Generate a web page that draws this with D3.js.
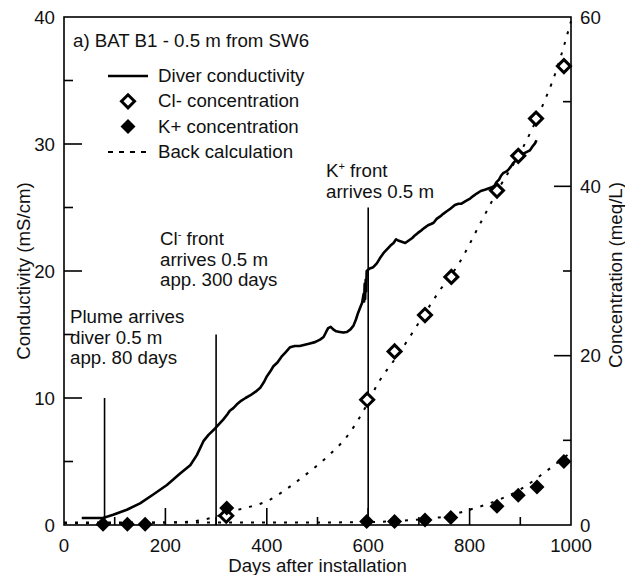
<!DOCTYPE html>
<html>
<head>
<meta charset="utf-8">
<script src="https://cdn.jsdelivr.net/npm/d3@7"></script>
<style>
  html, body { margin: 0; padding: 0; background: #fff; }
  svg text { font-family: "Liberation Sans", Arial, sans-serif; fill: #111; }
</style>
</head>
<body>
<svg id="chart" width="625" height="575"></svg>
<script>
// values
const xTicks = [0, 200, 400, 600, 800, 1000];
const xMinorTicks = [100, 300, 500, 700, 900];
const condTicks = [0, 10, 20, 30, 40];
const condMinorTicks = [5, 15, 25, 35];
const concTicks = [0, 20, 40, 60];
const concMinorTicks = [10, 30, 50];

// diver conductivity [day, mS/cm]
const diverConductivity = [
    [35, 0.55], [77, 0.55], [80, 0.6], [97, 0.8], [124, 1.2], [150, 1.7], [176, 2.4],
    [203, 3.15], [229, 4.05], [249, 4.7], [262, 5.5], [275, 6.6], [285, 7.1], [298, 7.6],
    [314, 8.3], [322, 8.7], [327, 9.0], [334, 9.2], [341, 9.5], [350, 9.8], [358, 10.0],
    [367, 10.2], [378, 10.5], [387, 10.8], [395, 11.3], [400, 11.7], [407, 12.1], [413, 12.5],
    [421, 12.8], [429, 13.25], [437, 13.6], [446, 14.0], [455, 14.1], [465, 14.1], [475, 14.2],
    [485, 14.3], [495, 14.4], [505, 14.6], [512, 14.8], [517, 15.2], [521, 15.5], [526, 15.6],
    [531, 15.4], [537, 15.25], [544, 15.2], [551, 15.15], [558, 15.2], [565, 15.4], [571, 15.7],
    [576, 16.2], [580, 16.7], [585, 17.2], [588, 17.5], [591, 18.2], [592, 17.6], [593, 19.0],
    [594, 17.8], [595, 19.3], [596, 18.4], [597, 20.0], [603, 20.2], [610, 20.3], [617, 20.6],
    [623, 21.0], [630, 21.4], [637, 21.7], [644, 22.0], [650, 22.2], [655, 22.5], [659, 22.4],
    [666, 22.3], [673, 22.2], [680, 22.4], [687, 22.6], [692, 22.8], [698, 23.0], [705, 23.2],
    [711, 23.4], [718, 23.6], [724, 23.7], [729, 23.8], [735, 24.1], [742, 24.3], [748, 24.5],
    [755, 24.7], [762, 24.9], [771, 25.2], [778, 25.3], [784, 25.3], [792, 25.5], [801, 25.7],
    [807, 25.9], [814, 26.1], [822, 26.3], [830, 26.4], [837, 26.5], [844, 26.6], [849, 26.7],
    [853, 27.0], [858, 27.2], [862, 27.5], [866, 27.7], [871, 27.8], [876, 27.95], [881, 28.2],
    [886, 28.5], [891, 28.7], [896, 29.0], [902, 29.1], [909, 29.3], [914, 29.4], [919, 29.5],
    [924, 29.8], [929, 30.05], [932, 30.3]
];

// Cl- and K+ concentration samples [day, meq/L]
const clConcentration = [
    [320, 1.1], [598, 14.8], [652, 20.5], [712, 24.8], [764, 29.3],
    [854, 39.5], [896, 43.6], [931, 48.0], [986, 54.2]
];
const kConcentration = [
    [77, 0.1], [125, 0.1], [160, 0.1], [321, 2.0], [597, 0.4], [652, 0.4],
    [712, 0.6], [763, 0.9], [854, 2.2], [896, 3.5], [933, 4.5], [986, 7.5]
];

// back calculations [day, meq/L]
const clBackCalc = [
    [0, 0.2], [100, 0.2], [200, 0.3], [250, 0.4], [280, 0.7], [300, 1.0], [330, 1.6],
    [370, 2.2], [400, 2.8], [440, 4.3], [480, 6.1], [520, 8.1], [560, 10.6], [590, 13.4],
    [620, 16.8], [660, 20.2], [700, 23.9], [740, 27.6], [780, 31.0], [820, 35.5],
    [860, 40.0], [900, 44.0], [940, 49.0], [970, 53.5], [1000, 59.5]
];
const kBackCalc = [
    [0, 0.3], [300, 0.3], [500, 0.3], [600, 0.35], [650, 0.45], [700, 0.65], [750, 1.0],
    [800, 1.8], [850, 2.8], [900, 4.2], [950, 6.3], [1000, 8.6]
];

// front annotations: day of the vertical line, top of line (mS/cm), text lines
const fronts = [
    { day: 80, top: 10, lines: ['Plume arrives', 'diver 0.5 m', 'app. 80 days'] },
    { day: 300, top: 15, lines: [['Cl', '-', ' front'], 'arrives 0.5 m', 'app. 300 days'] },
    { day: 600, top: 25, lines: [['K', '+', ' front'], 'arrives 0.5 m'] }
];

const legendItems = ['Diver conductivity', 'Cl- concentration', 'K+ concentration', 'Back calculation'];
const chartTitle = 'a) BAT B1 - 0.5 m from SW6';

// layout
const LEFT = 64, RIGHT = 571, TOP = 17, BOTTOM = 525;
const FONT = 18.7;

const svg = d3.select('#chart');

const x = d3.scaleLinear().domain([0, 1000]).range([LEFT, RIGHT]);
const yCond = d3.scaleLinear().domain([0, 40]).range([BOTTOM, TOP]);
const yConc = d3.scaleLinear().domain([0, 60]).range([BOTTOM, TOP]);

const diamond = r => `M0,${-r}L${r},0L0,${r}L${-r},0Z`;

// frame
svg.append('rect')
    .attr('x', LEFT).attr('y', TOP)
    .attr('width', RIGHT - LEFT).attr('height', BOTTOM - TOP)
    .attr('fill', 'none').attr('stroke', '#000').attr('stroke-width', 1.6);

// inward ticks
function ticks(list, len, orient) {
    list.forEach(v => {
        const l = svg.append('line').attr('stroke', '#000').attr('stroke-width', 1.6);
        if (orient === 'bottom') l.attr('x1', x(v)).attr('x2', x(v)).attr('y1', BOTTOM).attr('y2', BOTTOM - len);
        if (orient === 'left') l.attr('x1', LEFT).attr('x2', LEFT + len).attr('y1', yCond(v)).attr('y2', yCond(v));
        if (orient === 'right') l.attr('x1', RIGHT).attr('x2', RIGHT - len).attr('y1', yConc(v)).attr('y2', yConc(v));
    });
}
ticks(xTicks.filter(v => v > 0 && v < 1000), 17, 'bottom');
ticks(xMinorTicks, 8, 'bottom');
ticks(condTicks.filter(v => v > 0 && v < 40), 18, 'left');
ticks(condMinorTicks, 9, 'left');
ticks(concTicks.filter(v => v > 0 && v < 60), 17, 'right');
ticks(concMinorTicks, 8, 'right');

// tick labels
svg.append('g').selectAll('text').data(xTicks).join('text')
    .attr('x', d => x(d)).attr('y', 552)
    .attr('text-anchor', 'middle').attr('font-size', FONT)
    .text(d => d);
svg.append('g').selectAll('text').data(condTicks).join('text')
    .attr('x', 55).attr('y', d => yCond(d)).attr('dy', '0.36em')
    .attr('text-anchor', 'end').attr('font-size', FONT)
    .text(d => d);
svg.append('g').selectAll('text').data(concTicks).join('text')
    .attr('x', 580).attr('y', d => yConc(d)).attr('dy', '0.36em')
    .attr('text-anchor', 'start').attr('font-size', FONT)
    .text(d => d);

// axis titles
svg.append('text')
    .attr('x', (LEFT + RIGHT) / 2).attr('y', 572)
    .attr('text-anchor', 'middle').attr('font-size', FONT)
    .text('Days after installation');
svg.append('text')
    .attr('transform', `translate(30,${(TOP + BOTTOM) / 2}) rotate(-90)`)
    .attr('text-anchor', 'middle').attr('font-size', FONT)
    .text('Conductivity (mS/cm)');
svg.append('text')
    .attr('transform', `translate(622,${(TOP + BOTTOM) / 2 + 4}) rotate(-90)`)
    .attr('text-anchor', 'middle').attr('font-size', FONT)
    .text('Concentration (meq/L)');

// back calculation curves
const concLine = d3.line().x(d => x(d[0])).y(d => yConc(d[1])).curve(d3.curveMonotoneX);
[clBackCalc, kBackCalc].forEach(series => {
    svg.append('path')
        .attr('d', concLine(series))
        .attr('fill', 'none').attr('stroke', '#000')
        .attr('stroke-width', 2).attr('stroke-dasharray', '3,8');
});

// front markers
fronts.forEach(f => {
    svg.append('line')
        .attr('x1', x(f.day)).attr('x2', x(f.day))
        .attr('y1', yCond(f.top)).attr('y2', BOTTOM)
        .attr('stroke', '#000').attr('stroke-width', 1.6);
});

// diver conductivity
svg.append('path')
    .attr('d', d3.line().x(d => x(d[0])).y(d => yCond(d[1]))(diverConductivity))
    .attr('fill', 'none').attr('stroke', '#000')
    .attr('stroke-width', 2.6).attr('stroke-linejoin', 'round');

// Cl- open diamonds
svg.append('g').selectAll('path').data(clConcentration).join('path')
    .attr('transform', d => `translate(${x(d[0])},${yConc(d[1])})`)
    .attr('d', diamond(6.5))
    .attr('fill', '#fff').attr('stroke', '#000').attr('stroke-width', 3);

// K+ filled diamonds
svg.append('g').selectAll('path').data(kConcentration).join('path')
    .attr('transform', d => `translate(${x(d[0])},${yConc(d[1])})`)
    .attr('d', diamond(7.5))
    .attr('fill', '#000');

// title
svg.append('text')
    .attr('x', 73).attr('y', 47)
    .attr('font-size', FONT)
    .text(chartTitle);

// legend
const LEG_X = 108, LEG_Y = 76, LEG_STEP = 25.3;
legendItems.forEach((label, i) => {
    const cy = LEG_Y + i * LEG_STEP;
    if (i === 0 || i === 3) {
        svg.append('line')
            .attr('x1', LEG_X).attr('x2', LEG_X + 40).attr('y1', cy).attr('y2', cy)
            .attr('stroke', '#000')
            .attr('stroke-width', i === 0 ? 2.6 : 2)
            .attr('stroke-dasharray', i === 0 ? null : '5,6');
    } else if (i === 1) {
        svg.append('path')
            .attr('transform', `translate(${LEG_X + 20},${cy})`)
            .attr('d', diamond(6.5))
            .attr('fill', '#fff').attr('stroke', '#000').attr('stroke-width', 3);
    } else {
        svg.append('path')
            .attr('transform', `translate(${LEG_X + 20},${cy})`)
            .attr('d', diamond(7.5))
            .attr('fill', '#000');
    }
    svg.append('text')
        .attr('x', LEG_X + 50).attr('y', cy + 6)
        .attr('font-size', FONT)
        .text(label);
});

// annotation texts
const noteAnchors = [
    { x: 70, y: 323 },
    { x: 160, y: 245 },
    { x: 326, y: 177 }
];
fronts.forEach((f, i) => {
    const t = svg.append('text')
        .attr('x', noteAnchors[i].x).attr('y', noteAnchors[i].y)
        .attr('font-size', FONT);
    f.lines.forEach((line, j) => {
        const ts = t.append('tspan')
            .attr('x', noteAnchors[i].x)
            .attr('dy', j === 0 ? 0 : 20.5);
        if (Array.isArray(line)) {
            ts.text(line[0]);
            t.append('tspan').attr('font-size', 11).attr('dy', -7).text(line[1]);
            t.append('tspan').attr('dy', 7).text(line[2]);
        } else {
            ts.text(line);
        }
    });
});
</script>
</body>
</html>
